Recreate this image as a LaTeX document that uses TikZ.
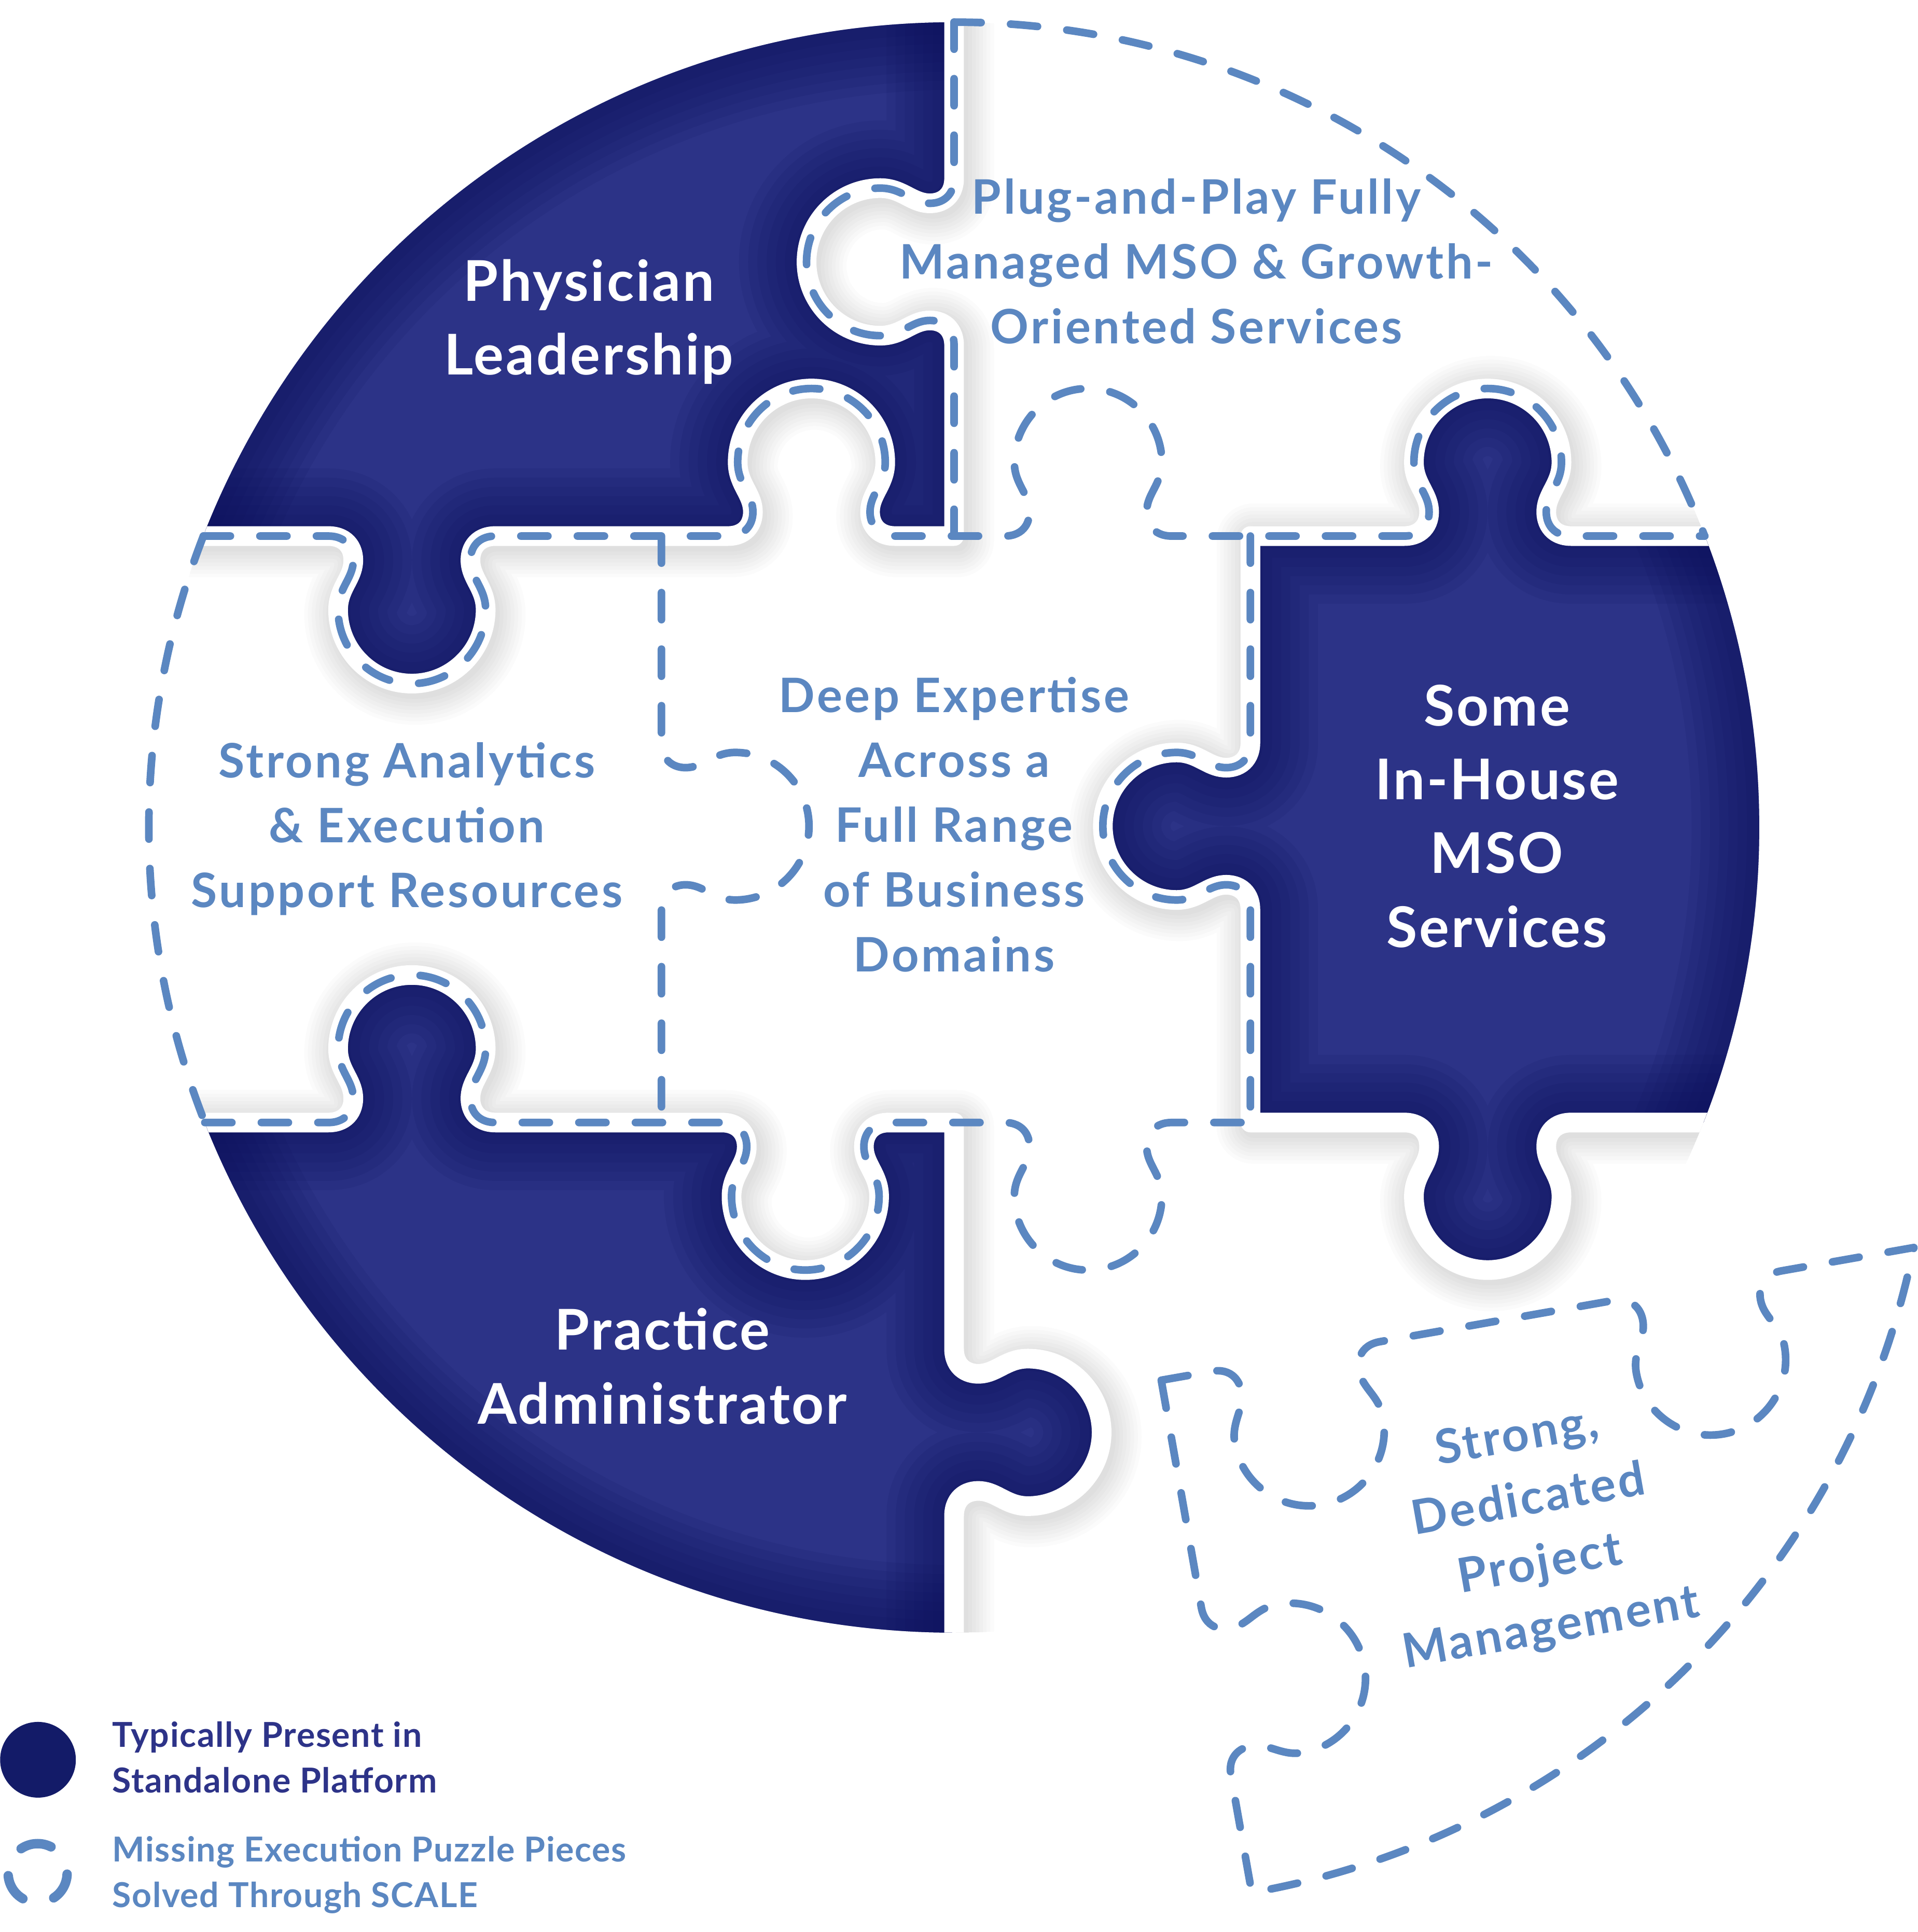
\documentclass[tikz,border=0pt]{standalone}
\usepackage{fontspec}
\newfontfamily\latoW{Lato}[LetterSpace=3.5]
\newfontfamily\latoB{Lato}[LetterSpace=5]
\newfontfamily\latoL{Lato}[LetterSpace=2.5]
\definecolor{navy}{RGB}{44,51,135}
\definecolor{navyedge}{RGB}{12,16,92}
\definecolor{dashblue}{RGB}{91,135,193}
\definecolor{legnavy}{RGB}{45,51,136}
\definecolor{legdot}{RGB}{19,27,104}

% knob control points: #1 name, (#2,#3) centre on edge, (#4,#5) travel direction, (#6,#7) knob direction
\newcommand\mkknob[7]{%
  \foreach \i/\u/\v in {0/-68/0,1/-52/0,2/-46/12,3/-48/24,4/-50/36,5/-60/44,6/-60/60,7/-60/93,8/-33/120,9/0/120,10/33/120,11/60/93,12/60/60,13/60/44,14/50/36,15/48/24,16/46/12,17/52/0,18/68/0}%
  {\coordinate (#1-\i) at ({#2+(\u)*(#4)+(\v)*(#6)},{#3+(\u)*(#5)+(\v)*(#7)});}%
}
\newcommand\kseg[1]{-- (#1-0) .. controls (#1-1) and (#1-2) .. (#1-3) .. controls (#1-4) and (#1-5) .. (#1-6) .. controls (#1-7) and (#1-8) .. (#1-9) .. controls (#1-10) and (#1-11) .. (#1-12) .. controls (#1-13) and (#1-14) .. (#1-15) .. controls (#1-16) and (#1-17) .. (#1-18)}

\newcommand\innerdark[1]{%
  \begin{scope}
    \clip #1;
    \foreach \w in {0.4,0.7,1.0,1.3,1.6,1.9,2.2}{%
      \draw[navyedge,opacity=0.11,line width=\w cm,line join=round] #1;
      \draw[navyedge,opacity=0.11,line width=\w cm] (776,673) circle[radius=13.1cm];
    }
  \end{scope}}

\tikzset{
  dl/.style={draw=dashblue, line width=0.124cm, dash pattern=on 0.44cm off 0.48cm, line cap=round, line join=round},
  wlab/.style={text=white, font=\latoW\bfseries\fontsize{26pt}{34.14pt}\selectfont, inner sep=0pt, anchor=base},
  blab/.style={text=dashblue, font=\latoB\bfseries\fontsize{22pt}{30pt}\selectfont, inner sep=0pt, anchor=base},
  legt/.style={font=\latoL\bfseries\fontsize{15.9pt}{21.05pt}\selectfont, inner sep=0pt, anchor=base west},
}

\begin{document}
\begin{tikzpicture}[x=0.02cm, y=-0.02cm]
\path[fill=white, use as bounding box] (0,0) rectangle (1560,1571.4);

% knobs
\mkknob{Ka}{776}{213}{0}{1}{-1}{0}
\mkknob{Kb}{660}{436}{-1}{0}{0}{-1}
\mkknob{Kc}{335}{436}{-1}{0}{0}{1}
\mkknob{Kd}{1210}{436}{1}{0}{0}{-1}
\mkknob{Ke}{1210}{913}{-1}{0}{0}{1}
\mkknob{Kf}{1017}{672}{0}{-1}{-1}{0}
\mkknob{Kg}{335}{913}{1}{0}{0}{-1}
\mkknob{Kh}{655}{913}{1}{0}{0}{1}
\mkknob{Ki}{776}{1165}{0}{1}{1}{0}
\mkknob{Kj}{335}{436}{1}{0}{0}{1}
\mkknob{Kk}{660}{436}{1}{0}{0}{-1}
\mkknob{Kl}{885}{436}{1}{0}{0}{-1}
\mkknob{Km}{885}{913}{1}{0}{0}{1}
\mkknob{Kn}{538}{672}{0}{1}{1}{0}
\mkknob{Ko}{1017}{672}{0}{1}{-1}{0}

\def\pPL{(776,-100) \kseg{Ka} -- (776,436) \kseg{Kb} \kseg{Kc} -- (-100,436) -- (-100,-100) -- cycle}
\def\pMSO{(1017,436) \kseg{Kd} -- (1600,436) -- (1600,913) \kseg{Ke} -- (1017,913) \kseg{Kf} -- cycle}
\def\pPA{(-100,913) \kseg{Kg} \kseg{Kh} -- (776,913) \kseg{Ki} -- (776,1500) -- (-100,1500) -- cycle}

\begin{scope}
  \clip (776,673) circle[radius=13.1cm];
  % soft shadows
  \begin{scope}[transform canvas={shift={(0.05cm,-0.07cm)}}]
    \foreach \w in {0.36,0.48,0.6,0.72,0.84,0.96,1.08,1.2}{%
      \draw[black,opacity=0.016,line width=\w cm,line join=round] \pPL;
      \draw[black,opacity=0.016,line width=\w cm,line join=round] \pMSO;
      \draw[black,opacity=0.016,line width=\w cm,line join=round] \pPA;
    }
  \end{scope}
  \fill[navy] \pPL;
  \fill[navy] \pMSO;
  \fill[navy] \pPA;
  \innerdark{\pPL}
  \innerdark{\pMSO}
  \innerdark{\pPA}
  \draw[white, line width=0.32cm, line join=round] \pPL;
  \draw[white, line width=0.32cm, line join=round] \pMSO;
  \draw[white, line width=0.32cm, line join=round] \pPA;
\end{scope}

% dashed outlines of the missing pieces
\draw[dl] (165.4,436) \kseg{Kj} \kseg{Kk} \kseg{Kl} \kseg{Kd} -- (1386.6,436);
\draw[dl] (776,18) \kseg{Ka} -- (776,436);
\draw[dl] (776,18) arc[start angle=90, end angle=21.21, radius=13.1cm];
\draw[dl] (165.4,436) arc[start angle=158.79, end angle=201.5, radius=13.1cm];
\draw[dl] (166.6,913) \kseg{Kg} \kseg{Kh} \kseg{Km} -- (1017,913);
\draw[dl] (538,436) \kseg{Kn} -- (538,913);
\draw[dl] (1017,436) \kseg{Ko} -- (1017,913);

% displaced piece
\begin{scope}[shift={(944.5,1122.6)}, rotate=10, scale=1.02]
  \mkknob{Qa}{109}{0}{1}{0}{0}{1}
  \mkknob{Qb}{434}{0}{1}{0}{0}{1}
  \mkknob{Qc}{0}{252}{0}{-1}{1}{0}
  \draw[dl] (0,0) \kseg{Qa} \kseg{Qb} -- (609.4,0) arc[start angle=-21.5, end angle=-90, radius=13.1cm] \kseg{Qc} -- cycle;
\end{scope}

% labels
\node[wlab] (pl) at (479,245) {\begin{tabular}[t]{@{}c@{}}Physician\\Leadership\end{tabular}};
\node[blab] (pnp) at (973,174) {\begin{tabular}[t]{@{}c@{}}Plug-and-Play Fully\\Managed MSO \& Growth-\\Oriented Services\end{tabular}};
\node[blab] (ctr) at (776,579.5) {\begin{tabular}[t]{@{}c@{}}Deep Expertise\\Across a\\Full Range\\of Business\\Domains\end{tabular}};
\node[blab] (sa) at (331,632.4) {\begin{tabular}[t]{@{}c@{}}Strong Analytics\\\& Execution\\Support Resources\end{tabular}};
\node[wlab] (mso) at (1217.5,590.4) {\begin{tabular}[t]{@{}c@{}}Some\\In-House\\MSO\\Services\end{tabular}};
\node[wlab] (pa) at (538.7,1098) {\begin{tabular}[t]{@{}c@{}}Practice\\Administrator\end{tabular}};
\node[blab, rotate=10] (br) at (1236,1180) {\begin{tabular}[t]{@{}c@{}}Strong,\\Dedicated\\Project\\Management\end{tabular}};

% legend
\node[circle, fill=legdot, minimum size=1.232cm, inner sep=0pt] (legA) at (30.9,1431.3) {};
\coordinate (legB) at (30.6,1523.5);
\draw[dashblue, line width=0.154cm, line cap=round] (legB) ++(124:0.48cm) arc[start angle=124, end angle=63, radius=0.48cm];
\draw[dashblue, line width=0.154cm, line cap=round] (legB) ++(-2:0.48cm) arc[start angle=-2, end angle=-57, radius=0.48cm];
\draw[dashblue, line width=0.154cm, line cap=round] (legB) ++(-120:0.48cm) arc[start angle=-120, end angle=-175, radius=0.48cm];
\node[legt, text=legnavy] (lg1) at (91,1421.2) {\begin{tabular}[t]{@{}l@{}}Typically Present in\\Standalone Platform\end{tabular}};
\node[legt, text=dashblue] (lg2) at (91,1514.2) {\begin{tabular}[t]{@{}l@{}}Missing Execution Puzzle Pieces\\Solved Through SCALE\end{tabular}};
\end{tikzpicture}
\end{document}
